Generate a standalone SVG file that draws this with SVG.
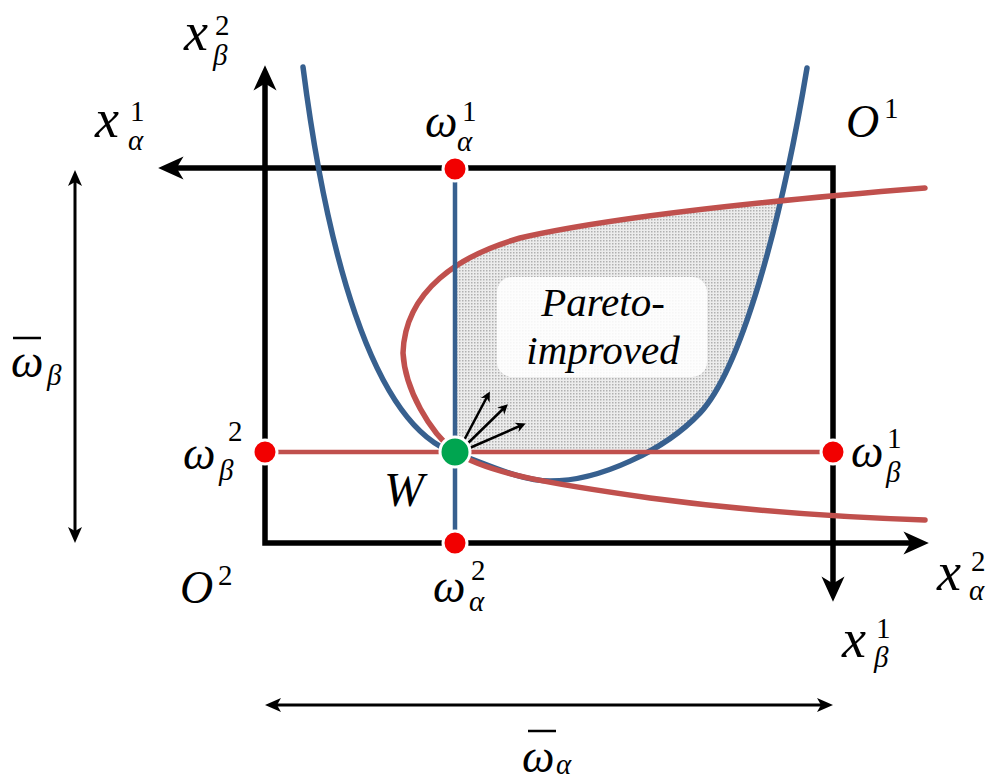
<svg xmlns="http://www.w3.org/2000/svg" width="997" height="783" viewBox="0 0 997 783">
<style>
.ax{fill:none;stroke:#000;stroke-width:5.5;stroke-linejoin:miter}
.thin{fill:none;stroke:#000;stroke-width:3}
.small{fill:none;stroke:#000;stroke-width:2.5}
.blue{fill:none;stroke:#37608F;stroke-width:5.5;stroke-linecap:round}
.red{fill:none;stroke:#C0504D;stroke-width:5.5;stroke-linecap:round}
.rdot{fill:#F20000;stroke:#fff;stroke-width:3}
.gdot{fill:#00A550;stroke:#fff;stroke-width:3}
.m{font-family:"Liberation Serif","DejaVu Serif",serif;font-style:italic;font-size:46px;fill:#000}
.mx{font-size:54px}
.s{font-style:italic;font-size:29px}
.d{font-style:normal;font-size:29px}
.lbl{font-family:"Liberation Serif","DejaVu Serif",serif;font-style:italic;font-size:41px;fill:#000;text-anchor:middle}
</style>
<defs>
<marker id="big" markerUnits="userSpaceOnUse" markerWidth="30" markerHeight="30" viewBox="-12 -12 26 24" refX="0" refY="0" orient="auto-start-reverse">
<path d="M12,0 L-10,-10 L-4,0 L-10,10 Z" fill="#000"/>
</marker>
<marker id="th" markerUnits="userSpaceOnUse" markerWidth="20" markerHeight="20" viewBox="-10 -8 20 16" refX="0" refY="0" orient="auto-start-reverse">
<path d="M8,0 L-8,-7 L-4,0 L-8,7 Z" fill="#000"/>
</marker>
<marker id="sm" markerUnits="userSpaceOnUse" markerWidth="16" markerHeight="16" viewBox="-8 -7 16 14" refX="0" refY="0" orient="auto">
<path d="M4,0 L-6,-5 L-3,0 L-6,5 Z" fill="#000"/>
</marker>
<pattern id="dots" width="3" height="3" patternUnits="userSpaceOnUse">
<rect width="3" height="3" fill="#ececec"/>
<rect width="1.5" height="1.5" fill="#b0b0b0"/>
</pattern>
<clipPath id="redIn">
<path d="M925,188 C800,198 620,215 520,238 C460,255 405,290 403,353 C405,390 430,432 455,452 C490,475 560,485 650,498 C740,510 830,517 925,520 Z"/>
</clipPath>
<clipPath id="blueIn">
<path d="M303,67 C325,240 370,425 455,453 C485,463 520,481 550,481 C600,481 665,450 700,413 C740,370 780,230 807,68 Z"/>
</clipPath>
</defs>

<g id="pareto-region">
<g clip-path="url(#redIn)">
<rect x="455" y="150" width="380" height="302" fill="url(#dots)" clip-path="url(#blueIn)"/>
</g>
</g>

<g id="pareto-label">
<rect x="497" y="277" width="210" height="100" rx="15" fill="#fff" fill-opacity="0.88"/>
<text class="lbl" x="603" y="316">Pareto-</text>
<text class="lbl" x="603" y="364">improved</text>
</g>

<g id="connectors">
<path class="ax" d="M833,588 L833,168 L172,168" marker-start="url(#big)" marker-end="url(#big)"/>
<path class="ax" d="M265,79 L265,543 L915,543" marker-start="url(#big)" marker-end="url(#big)"/>
<line class="thin" x1="75" y1="178" x2="75" y2="535" marker-start="url(#th)" marker-end="url(#th)"/>
<line class="thin" x1="273" y1="705" x2="825" y2="705" marker-start="url(#th)" marker-end="url(#th)"/>
<path id="blue-curve" class="blue" d="M303,67 C325,240 370,425 455,453 C485,463 520,481 550,481 C600,481 665,450 700,413 C740,370 780,230 807,68"/>
<path id="red-curve" class="red" d="M925,188 C800,198 620,215 520,238 C460,255 405,290 403,353 C405,390 430,432 455,452 C490,475 560,485 650,498 C740,510 830,517 925,520"/>
<line class="blue" x1="455" y1="169" x2="455" y2="543" style="stroke-width:4.5;stroke-linecap:butt"/>
<line class="red" x1="265" y1="452" x2="833" y2="452" style="stroke-width:4.5;stroke-linecap:butt"/>
<line class="small" x1="461" y1="446" x2="488" y2="395" marker-end="url(#sm)"/>
<line class="small" x1="463" y1="448" x2="505" y2="407" marker-end="url(#sm)"/>
<line class="small" x1="465" y1="450" x2="522" y2="425" marker-end="url(#sm)"/>
</g>

<g id="node-omega-alpha-1"><circle class="rdot" cx="455" cy="169" r="12"/>
<text class="m"><tspan x="425" y="137">ω</tspan><tspan class="d" x="462" y="121">1</tspan><tspan class="s" x="457" y="151">α</tspan></text></g>
<g id="node-omega-beta-2"><circle class="rdot" cx="265" cy="452" r="12"/>
<text class="m"><tspan x="183" y="469">ω</tspan><tspan class="d" x="228" y="441">2</tspan><tspan class="s" x="219" y="480">β</tspan></text></g>
<g id="node-omega-beta-1"><circle class="rdot" cx="833" cy="452" r="12"/>
<text class="m"><tspan x="851" y="467">ω</tspan><tspan class="d" x="887" y="448">1</tspan><tspan class="s" x="886" y="482">β</tspan></text></g>
<g id="node-omega-alpha-2"><circle class="rdot" cx="455" cy="543" r="12"/>
<text class="m"><tspan x="433" y="602">ω</tspan><tspan class="d" x="471" y="580">2</tspan><tspan class="s" x="469" y="611">α</tspan></text></g>
<g id="node-W"><circle class="gdot" cx="455" cy="452" r="15"/>
<text class="m" x="384" y="506" style="font-size:48px">W</text></g>

<g id="labels">
<text class="m"><tspan class="mx" x="184" y="50">x</tspan><tspan class="d" x="215" y="35">2</tspan><tspan class="s" x="213" y="65">β</tspan></text>
<text class="m"><tspan class="mx" x="95" y="137">x</tspan><tspan class="d" x="130" y="121">1</tspan><tspan class="s" x="128" y="150">α</tspan></text>
<text class="m"><tspan x="846" y="137">O</tspan><tspan class="d" x="884" y="118">1</tspan></text>
<text class="m"><tspan x="180" y="603">O</tspan><tspan class="d" x="218" y="585">2</tspan></text>
<text class="m"><tspan class="mx" x="937" y="590">x</tspan><tspan class="d" x="971" y="571">2</tspan><tspan class="s" x="969" y="600">α</tspan></text>
<text class="m"><tspan class="mx" x="842" y="657">x</tspan><tspan class="d" x="876" y="638">1</tspan><tspan class="s" x="874" y="667">β</tspan></text>
<line x1="13" y1="338" x2="41" y2="338" stroke="#000" stroke-width="2.5"/>
<text class="m"><tspan x="11" y="377">ω</tspan><tspan class="s" x="47" y="385">β</tspan></text>
<line x1="528" y1="731" x2="556" y2="731" stroke="#000" stroke-width="2.5"/>
<text class="m"><tspan x="522" y="772">ω</tspan><tspan class="s" x="556" y="774">α</tspan></text>
</g>
</svg>
